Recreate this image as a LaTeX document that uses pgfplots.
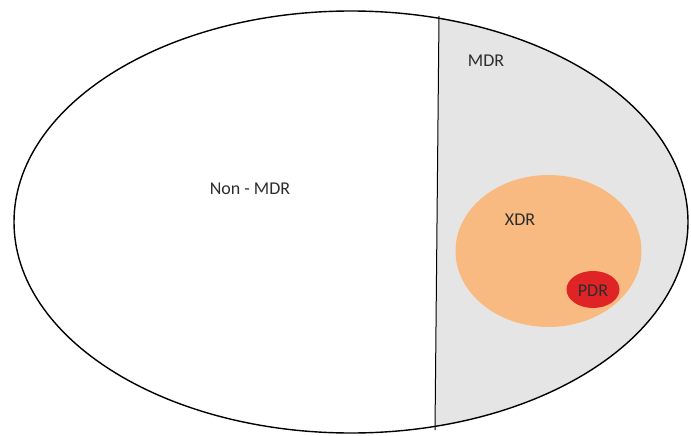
\documentclass[border=0pt]{standalone}
\usepackage{pgfplots}
\pgfplotsset{compat=1.18}
\usepackage{fontspec}
\setmainfont{Carlito}
\definecolor{mdrgrey}{RGB}{230,229,230}
\definecolor{xdrorange}{RGB}{248,186,128}
\definecolor{pdrred}{RGB}{224,36,38}
\definecolor{txt}{RGB}{45,45,45}
\begin{document}
\begin{tikzpicture}
\begin{axis}[
  scale only axis, width=691pt, height=436pt,
  xmin=0, xmax=691, ymin=0, ymax=436, y dir=reverse,
  hide axis, clip=false,
]
\addplot[draw=none, forget plot] coordinates {(0,0) (691,436)};
% MDR region: right of the dividing line, inside the outer ellipse
\begin{scope}
  \clip (axis cs:351,222) ellipse [x radius=337, y radius=211];
  \fill[mdrgrey] (axis cs:439,0) -- (axis cs:700,0) -- (axis cs:700,436) -- (axis cs:435,436) -- cycle;
\end{scope}
% XDR and PDR
\fill[xdrorange] (axis cs:548.5,251) ellipse [x radius=93, y radius=76];
\fill[pdrred] (axis cs:593,289.5) ellipse [x radius=26.5, y radius=18.5];
% outer ellipse and divider
\draw[black, line width=1.4pt] (axis cs:351,222) ellipse [x radius=337, y radius=211];
\draw[black, line width=1pt] (axis cs:439,16) -- (axis cs:435,430);
% labels
\node[txt, font=\fontsize{18}{20}\selectfont] at (axis cs:486,61) {MDR};
\node[txt, font=\fontsize{18}{20}\selectfont] at (axis cs:250,189) {Non - MDR};
\node[txt, font=\fontsize{18}{20}\selectfont] at (axis cs:520,220) {XDR};
\node[txt, font=\fontsize{18}{20}\selectfont] at (axis cs:593,291) {PDR};
\end{axis}
\end{tikzpicture}
\end{document}
